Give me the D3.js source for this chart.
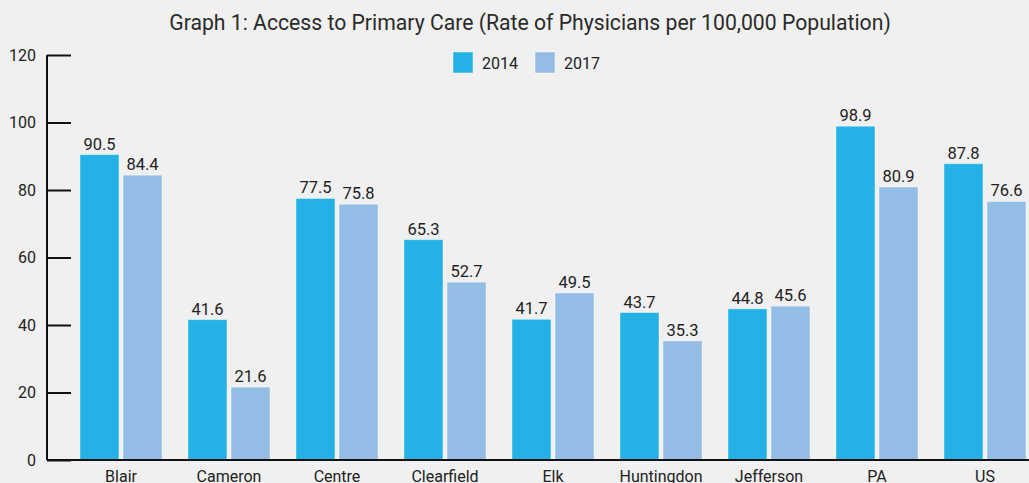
<!DOCTYPE html>
<html>
<head>
<meta charset="utf-8">
<script src="https://cdn.jsdelivr.net/npm/d3@7"></script>
<style>
  body { margin: 0; background: #eff0ef; overflow: hidden; }
  svg { display: block; font-family: Roboto, "Noto Sans", sans-serif; }
</style>
</head>
<body>
<svg id="chart"></svg>
<script>
/*
    DATA
*/
var counties = ["Blair", "Cameron", "Centre", "Clearfield", "Elk", "Huntingdon", "Jefferson", "PA", "US"];
var years = ["2014", "2017"];
var rate2014 = [90.5, 41.6, 77.5, 65.3, 41.7, 43.7, 44.8, 98.9, 87.8];
var rate2017 = [84.4, 21.6, 75.8, 52.7, 49.5, 35.3, 45.6, 80.9, 76.6];
var yTicks = [0, 20, 40, 60, 80, 100, 120];
var colors = ["#24b2e6", "#93bde4"];

/*
    LAYOUT
*/
var width = 1029;
var height = 483;
var axisX = 47;
var y0 = 460, yTop = 55;

var svg = d3.select("#chart")
  .attr("width", width)
  .attr("height", height);

var x0 = d3.scaleBand()
  .domain(counties)
  .range([67, 1039])
  .paddingInner(0.24)
  .paddingOuter(0.12);

var x1 = d3.scaleBand()
  .domain(years)
  .range([0, x0.bandwidth()])
  .paddingInner(0.093);

var y = d3.scaleLinear()
  .domain([0, 120])
  .range([y0, yTop]);

var color = d3.scaleOrdinal().domain(years).range(colors);

// title
svg.append("text")
  .attr("x", 530)
  .attr("y", 30)
  .attr("text-anchor", "middle")
  .style("font-size", "21.2px")
  .style("fill", "#2b2b2b")
  .text("Graph 1: Access to Primary Care (Rate of Physicians per 100,000 Population)");

// legend
var legend = svg.append("g").attr("class", "legend");
years.forEach(function(yr, i) {
  var lx = 453 + i * 82;
  legend.append("rect")
    .attr("x", lx).attr("y", 52)
    .attr("width", 20).attr("height", 21)
    .attr("fill", color(yr))
    .attr("stroke", "rgba(255,255,255,0.45)");
  legend.append("text")
    .attr("x", lx + 29).attr("y", 69)
    .style("font-size", "16px")
    .style("fill", "#222")
    .text(yr);
});

// y axis
var yAxis = svg.append("g")
  .attr("transform", "translate(" + axisX + ",0)")
  .call(d3.axisRight(y).tickValues(yTicks).tickSize(24).tickFormat(""));
yAxis.select(".domain").attr("d", "M0," + yTop + "V" + y0)
  .attr("stroke", "#111").attr("stroke-width", 2);
yAxis.selectAll(".tick line").attr("stroke", "#111").attr("stroke-width", 2);

svg.selectAll(".ylabel")
  .data(yTicks)
  .enter().append("text")
  .attr("class", "ylabel")
  .attr("x", 36)
  .attr("y", function(d) { return y(d); })
  .attr("dy", "0.35em")
  .attr("text-anchor", "end")
  .style("font-size", "16px")
  .style("fill", "#222")
  .text(function(d) { return d; });

// bars
var rows = counties.map(function(c, i) {
  return { county: c, values: [
    { year: "2014", v: rate2014[i] },
    { year: "2017", v: rate2017[i] }
  ]};
});

var groups = svg.selectAll(".group")
  .data(rows)
  .enter().append("g")
  .attr("class", "group")
  .attr("transform", function(d) { return "translate(" + x0(d.county) + ",0)"; });

groups.selectAll("rect")
  .data(function(d) { return d.values; })
  .enter().append("rect")
  .attr("x", function(d) { return x1(d.year); })
  .attr("y", function(d) { return y(d.v); })
  .attr("width", x1.bandwidth())
  .attr("height", function(d) { return y0 - y(d.v); })
  .attr("fill", function(d) { return color(d.year); })
  .attr("stroke", "rgba(255,255,255,0.45)")
  .attr("stroke-width", 1);

groups.selectAll(".val")
  .data(function(d) { return d.values; })
  .enter().append("text")
  .attr("class", "val")
  .attr("x", function(d) { return x1(d.year) + x1.bandwidth() / 2; })
  .attr("y", function(d) { return y(d.v) - 5; })
  .attr("text-anchor", "middle")
  .style("font-size", "16.5px")
  .style("fill", "#222")
  .text(function(d) { return d.v.toFixed(1); });

// x axis
svg.append("line")
  .attr("x1", axisX).attr("x2", width)
  .attr("y1", y0).attr("y2", y0)
  .attr("stroke", "#111").attr("stroke-width", 2);

svg.selectAll(".xlabel")
  .data(counties)
  .enter().append("text")
  .attr("class", "xlabel")
  .attr("x", function(d) { return x0(d) + x0.bandwidth() / 2; })
  .attr("y", 482)
  .attr("text-anchor", "middle")
  .style("font-size", "16px")
  .style("fill", "#222")
  .text(function(d) { return d; });
</script>
</body>
</html>
